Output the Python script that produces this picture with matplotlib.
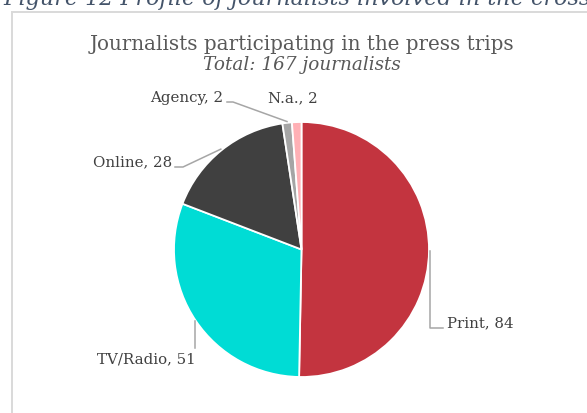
import numpy as np
import matplotlib
matplotlib.use("Agg")
import matplotlib.pyplot as plt

# Data
categories = ["Print", "TV/Radio", "Online", "Agency", "N.a."]
counts = [84, 51, 28, 2, 2]
colors = ["#C3343F", "#00DCD5", "#404040", "#A5A5A5", "#FFB0B5"]
total = sum(counts)

title = "Journalists participating in the press trips"
subtitle = f"Total: {total} journalists"
caption = "Figure 12 Profile of journalists involved in the cross-country press trips"

W, H = 587, 413
SERIF = ["DejaVu Serif"]

fig = plt.figure(figsize=(W / 100, H / 100), dpi=100)
ax = fig.add_axes([0, 0, 1, 1])


def Y(py):
    """Convert a top-down pixel row to the axes' bottom-up coordinate."""
    return H - py


cx, cy, r = 301.5, Y(249.5), 127.5
wedges, _ = ax.pie(counts, colors=colors, startangle=90, counterclock=False,
                   center=(cx, cy), radius=r, frame=True,
                   wedgeprops=dict(edgecolor="white", linewidth=1.3))
ax.set_xlim(0, W)
ax.set_ylim(0, H)
ax.set_aspect("equal")
ax.axis("off")

# Chart-area border (left and top edges)
ax.plot([12, 12, W + 5], [Y(H + 5), Y(12), Y(12)], color="#D9D9D9", lw=1.4,
        solid_joinstyle="miter", clip_on=False)

# Caption above the chart area (runs off the page edge)
ax.text(3, Y(5), caption, fontsize=16, style="italic", family=SERIF,
        color="#44546A", ha="left", va="baseline")

ax.text(cx, Y(50), title, fontsize=14.3, family=SERIF, color="#595959",
        ha="center", va="baseline")
ax.text(cx, Y(70), subtitle, fontsize=13.2, style="italic", family=SERIF,
        color="#595959", ha="center", va="baseline")

# Leader line elbows and label placement (pixel rows counted from the top)
label_layout = {
    "Print":    dict(path=[(432, 328), (443, 328)], text=(447, 327), ha="left"),
    "TV/Radio": dict(path=[(194, 348)], text=(196, 363), ha="right"),
    "Online":   dict(path=[(183, 167), (175, 167)], text=(172, 166), ha="right"),
    "Agency":   dict(path=[(233, 102), (227, 102)], text=(223, 102), ha="right"),
    "N.a.":     dict(path=None, text=(268, 102), ha="left"),
}

for w, cat, val in zip(wedges, categories, counts):
    mid = np.deg2rad((w.theta1 + w.theta2) / 2)
    ax_x = cx + 1.01 * r * np.cos(mid)
    ax_y = cy + 1.01 * r * np.sin(mid)
    lay = label_layout[cat]
    if lay["path"]:
        xs = [ax_x] + [p[0] for p in lay["path"]]
        ys = [ax_y] + [Y(p[1]) for p in lay["path"]]
        if cat in ("Print", "TV/Radio"):
            xs[1] = ax_x
        ax.plot(xs, ys, color="#A6A6A6", lw=1.1)
    tx, ty = lay["text"]
    ax.text(tx, Y(ty), f"{cat}, {val}", fontsize=10.8, family=SERIF,
            color="#404040", ha=lay["ha"], va="baseline")

fig.savefig("out.png", dpi=100)
